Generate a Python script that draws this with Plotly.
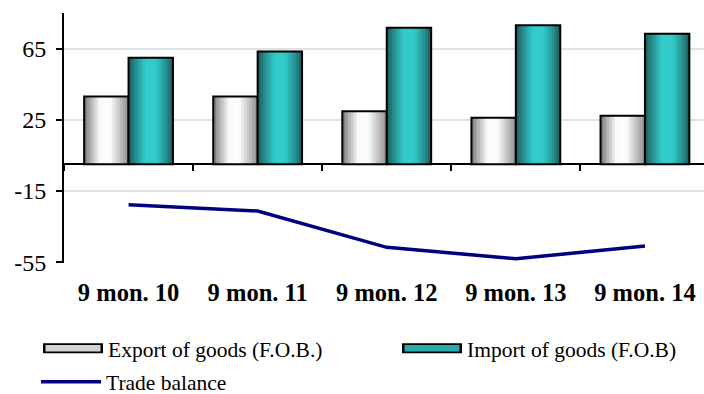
import plotly.graph_objects as go

# ---------------- data ----------------
categories = ["9 mon. 10", "9 mon. 11", "9 mon. 12", "9 mon. 13", "9 mon. 14"]
exports = [38.1, 38.1, 29.8, 26.1, 27.2]
imports = [59.8, 63.4, 76.7, 78.1, 73.3]
trade_balance = [-22.8, -26.3, -46.7, -53.1, -46.0]
y_tick_vals = [-55, -15, 25, 65]
y_tick_text = ["-55", "-15", "25", "65"]
series_names = ["Export of goods (F.O.B.)", "Import of goods (F.O.B)", "Trade balance"]

# ---------------- style ----------------
W, H = 704, 394
ML, MT = 64, 13
Y_MIN, Y_MAX = -55.5, 85
PX_PER_UNIT = 1.78
PX_PER_CAT = 129.1
plot_h = (Y_MAX - Y_MIN) * PX_PER_UNIT
plot_w = W - ML
MB = H - MT - plot_h
X_RANGE = [-0.5, -0.5 + plot_w / PX_PER_CAT]

BAR_W = 0.344
N_STRIPS = 16
SERIF = "Liberation Serif, Times New Roman, serif"

export_stops = [(0.0, (0x74, 0x74, 0x74)), (0.12, (0xa8, 0xa8, 0xa8)), (0.35, (0xfa, 0xfa, 0xfa)),
                (0.58, (0xfd, 0xfd, 0xfd)), (0.8, (0xc4, 0xc4, 0xc4)), (1.0, (0x8e, 0x8e, 0x8e))]
import_stops = [(0.0, (0x1b, 0x5c, 0x5c)), (0.12, (0x24, 0x80, 0x80)), (0.38, (0x33, 0xcc, 0xcc)),
                (0.62, (0x33, 0xca, 0xca)), (0.85, (0x27, 0x8e, 0x8e)), (1.0, (0x1c, 0x58, 0x58))]


def grad_color(stops, t):
    for (t0, c0), (t1, c1) in zip(stops[:-1], stops[1:]):
        if t0 <= t <= t1:
            f = (t - t0) / (t1 - t0) if t1 > t0 else 0
            c = [round(a + (b - a) * f) for a, b in zip(c0, c1)]
            return "rgb(%d,%d,%d)" % tuple(c)
    return "rgb(%d,%d,%d)" % stops[-1][1]


fig = go.Figure()


def add_gradient_bars(values, start_offset, stops):
    step = BAR_W / N_STRIPS
    for i in range(N_STRIPS):
        t = (i + 0.5) / N_STRIPS
        w = step * 1.8 if i < N_STRIPS - 1 else step
        fig.add_trace(go.Bar(
            x=categories, y=values,
            offset=start_offset + i * step, width=w,
            marker=dict(color=grad_color(stops, t), line=dict(width=0)),
            showlegend=False, hoverinfo="skip",
        ))
    fig.add_trace(go.Bar(
        x=categories, y=values, offset=start_offset, width=BAR_W,
        marker=dict(color="rgba(0,0,0,0)", line=dict(color="black", width=2)),
        showlegend=False, hoverinfo="y",
    ))


add_gradient_bars(exports, -BAR_W, export_stops)
add_gradient_bars(imports, 0.0, import_stops)

fig.add_trace(go.Scatter(
    x=categories, y=trade_balance, xaxis="x2", yaxis="y",
    mode="lines", line=dict(color="#000080", width=3.5),
    name=series_names[2], legend="legend3", showlegend=True,
))

# legend proxies for the bar series: black frame + coloured interior
fig.add_trace(go.Scatter(x=[None], y=[None], mode="lines",
                         line=dict(color="black", width=10),
                         name=series_names[0], legend="legend"))
fig.add_trace(go.Scatter(x=[None], y=[None], mode="lines",
                         line=dict(color="black", width=10),
                         name=series_names[1], legend="legend2"))
fig.add_trace(go.Scatter(x=[None], y=[None], mode="lines",
                         line=dict(color="#d2d2d2", width=6.5),
                         name=" ", legend="legend4"))
fig.add_trace(go.Scatter(x=[None], y=[None], mode="lines",
                         line=dict(color="#2aabab", width=6.5),
                         name=" ", legend="legend5"))


def py(p):
    return (MT + plot_h - p) / plot_h


def px(p):
    return (p - ML) / plot_w


leg_font = dict(family=SERIF, size=21.5, color="black")
leg_common = dict(font=leg_font, bgcolor="rgba(0,0,0,0)", itemwidth=60,
                  xanchor="left", yanchor="middle", borderwidth=0)
leg_inner = dict(font=leg_font, bgcolor="rgba(0,0,0,0)", itemwidth=55,
                 xanchor="left", yanchor="middle", borderwidth=0)

ROW1, ROW2 = 348.5, 382
LEG1_X, LEG2_X = 38, 397

fig.update_layout(
    width=W, height=H,
    margin=dict(l=ML, r=0, t=MT, b=MB, pad=0, autoexpand=False),
    paper_bgcolor="white", plot_bgcolor="white",
    barmode="overlay",
    xaxis=dict(type="category", range=X_RANGE, showline=False, ticks="",
               showgrid=False, zeroline=False,
               tickfont=dict(family=SERIF, size=24.5, color="black", weight="bold"),
               ticklabelstandoff=12),
    xaxis2=dict(type="category", overlaying="x", anchor="free", position=(0 - Y_MIN) / (Y_MAX - Y_MIN),
                range=X_RANGE, showline=False, showgrid=False, zeroline=False,
                ticks="outside", tickson="boundaries", ticklen=6, tickwidth=2,
                tickcolor="black", showticklabels=False, side="bottom"),
    yaxis=dict(range=[Y_MIN, Y_MAX], tickvals=y_tick_vals, ticktext=y_tick_text,
               showline=True, linecolor="black", linewidth=2,
               ticks="outside", ticklen=6, tickwidth=2, tickcolor="black",
               showgrid=True, gridcolor="#e2e2e2", gridwidth=2,
               zeroline=True, zerolinecolor="black", zerolinewidth=2,
               tickfont=dict(family=SERIF, size=24, color="black"),
               ticklabelstandoff=5),
    legend=dict(x=px(LEG1_X), y=py(ROW1), **leg_common),
    legend2=dict(x=px(LEG2_X), y=py(ROW1), **leg_common),
    legend3=dict(x=px(LEG1_X - 2), y=py(ROW2), **leg_common),
    legend4=dict(x=px(LEG1_X + 2.5), y=py(ROW1), **leg_inner),
    legend5=dict(x=px(LEG2_X + 2.5), y=py(ROW1), **leg_inner),
)

fig.write_html("out.html")
